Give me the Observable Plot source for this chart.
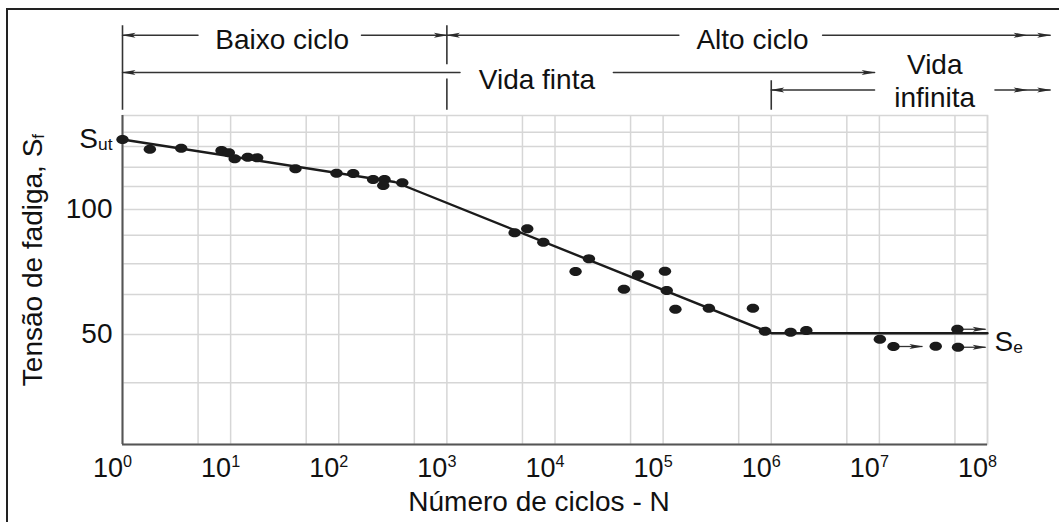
<!DOCTYPE html>
<html><head><meta charset="utf-8">
<script src="https://cdn.jsdelivr.net/npm/d3@7"></script>
<script src="https://cdn.jsdelivr.net/npm/@observablehq/plot@0.6"></script>
<style>
html,body{margin:0;padding:0;background:#fff;overflow:hidden;}
#wrap{position:relative;width:1059px;height:522px;}
#frame{position:absolute;left:6px;top:8px;right:-10px;bottom:-10px;border-left:2px solid #222;border-top:2px solid #222;pointer-events:none;}
</style></head><body><div id="wrap"><div id="frame"></div></div>
<script>
// ---- data ----
const decades = [1, 10, 100, 1e3, 1e4, 1e5, 1e6, 1e7, 1e8];
const minorN = [5, 50, 500, 5e3, 5e4, 5e5, 5e6, 5e7];
const stressGrid = [130.9, 125.2, 116.9, 109.2, 100, 89.7, 78.3, 66, 50, 30.7];
const Sut = 128, Se = 50.5;
const stressTicks = [Sut, 100, 50];
const curveN = [1, 330, 1e6, 1e8];
const curveS = [Sut, 111, Se, Se];
const testN = [1, 1.79, 3.49, 8.24, 9.62, 10.9, 14.4, 17.6, 39.8, 95.4, 136, 208, 265, 258, 387,
  4230, 5540, 7800, 15500, 20600, 43400, 58500, 104000, 108000, 130000, 265000, 677000,
  875000, 1.51e6, 2.11e6, 1.01e7, 1.35e7, 3.32e7, 5.27e7, 5.34e7];
const testS = [128.0, 124.1, 124.5, 123.6, 122.7, 120.3, 120.9, 120.7, 116.3, 114.5, 114.4, 112.0, 112.0, 109.6, 110.7,
  90.7, 92.3, 86.9, 75.2, 80.3, 68.1, 73.9, 75.3, 67.6, 60.1, 60.5, 60.5,
  51.3, 50.9, 51.6, 48.1, 45.2, 45.3, 52.1, 44.9];
const runoutN = [1.35e7, 5.27e7, 5.34e7];
const runoutS = [45.2, 52.1, 44.9];
const runoutEnd = [2.5e7, 9.6e7, 9.6e7];
const regimeLabels = ["Baixo ciclo", "Alto ciclo", "Vida finta", "Vida\ninfinita"];
const regimeBounds = [1, 1e3, 1e6];

// ---- tables built from the arrays ----
const curve = curveN.map((N, i) => ({N, S: curveS[i]}));
const tests = testN.map((N, i) => ({N, S: testS[i]}));
const runouts = runoutN.map((N, i) => ({N, S: runoutS[i], end: runoutEnd[i]}));

// annotation band layout (in stress units, above the frame)
const band = {row1: 169.7, row2: 154.8, row3: 147.8, top: 173.5, bottom: 139.7, gapLo: 152.2, gapHi: 157.9, lo3: 151.5,
  text1: 168.4, text2: 152.5, text3: 151.9};
const [b0, b1, b2] = regimeBounds;
const segStart = [
  {id: "a", N: b0, y: band.row1}, {id: "a", N: 5, y: band.row1},
  {id: "c", N: b1, y: band.row1}, {id: "c", N: 1.4e5, y: band.row1},
  {id: "e", N: b0, y: band.row2}, {id: "e", N: 1325, y: band.row2},
  {id: "g", N: b2, y: band.row3}, {id: "g", N: 9.04e6, y: band.row3}
];
const segEnd = [
  {id: "b", N: 162, y: band.row1}, {id: "b", N: b1, y: band.row1},
  {id: "f", N: 34600, y: band.row2}, {id: "f", N: 9.04e6, y: band.row2}
];
const segDouble = [
  {id: "d", N: 2.98e6, y: band.row1}, {id: "d", N: 2.3e8, y: band.row1}, {id: "d", N: 3.8e8, y: band.row1},
  {id: "h", N: 1.17e8, y: band.row3}, {id: "h", N: 2.3e8, y: band.row3}, {id: "h", N: 3.8e8, y: band.row3}
];
const bars = [
  {N: b0, y1: band.bottom, y2: band.top},
  {N: b1, y1: band.bottom, y2: band.gapLo}, {N: b1, y1: band.gapHi, y2: band.top},
  {N: b2, y1: band.bottom, y2: band.lo3}
];
const labels = [
  {t: regimeLabels[0], N: 30, y: band.text1},
  {t: regimeLabels[1], N: 6.7e5, y: band.text1},
  {t: regimeLabels[2], N: 6800, y: band.text2},
  {t: regimeLabels[3], N: 3.25e7, y: band.text3}
];

const ellipse = {draw(ctx) {
  const rx = 6.2, ry = 4.6, k = 0.5523;
  ctx.moveTo(rx, 0);
  ctx.bezierCurveTo(rx, ry * k, rx * k, ry, 0, ry);
  ctx.bezierCurveTo(-rx * k, ry, -rx, ry * k, -rx, 0);
  ctx.bezierCurveTo(-rx, -ry * k, -rx * k, -ry, 0, -ry);
  ctx.bezierCurveTo(rx * k, -ry, rx, -ry * k, rx, 0);
  ctx.closePath();
}};

const ink = "#1b1b1b", annot = "#333";
const chart = Plot.plot({
  width: 1059, height: 522,
  marginLeft: 122, marginRight: 72, marginTop: 115, marginBottom: 78,
  x: {type: "log", domain: [1, 1e8]},
  y: {domain: [6, 137.6]},
  style: {fontFamily: "'Liberation Sans', Arial, sans-serif", fontSize: "28px", color: "#111", background: "white", overflow: "visible"},
  marks: [
    Plot.gridX([...decades, ...minorN], {stroke: "#d6d6d6", strokeOpacity: 1, strokeWidth: 1.5}),
    Plot.gridY(stressGrid, {stroke: "#d6d6d6", strokeOpacity: 1, strokeWidth: 1.5}),
    Plot.frame({stroke: "#d6d6d6", strokeWidth: 1.5}),
    Plot.ruleX([1], {stroke: "#555", strokeWidth: 2}),
    Plot.ruleY([6], {stroke: "#555", strokeWidth: 2}),
    Plot.axisX(decades, {tickSize: 0, tickPadding: 13, fontSize: 27, dx: -10, label: null,
      tickFormat: d => "10^" + Math.round(Math.log10(d))}),
    Plot.axisY(stressTicks, {tickSize: 0, tickPadding: 10, fontSize: 28, label: null,
      tickFormat: d => d === Sut ? "S_ut" : String(d)}),
    Plot.text(["Tensão de fadiga, S_f"], {frameAnchor: "left", rotate: -90, dx: -89, dy: -20, fontSize: 28, textAnchor: "middle", lineAnchor: "middle"}),
    Plot.text(["Número de ciclos - N"], {frameAnchor: "bottom", dx: -16, dy: 58, fontSize: 28, textAnchor: "middle", lineAnchor: "middle"}),
    // regime annotations
    Plot.ruleX(bars, {x: "N", y1: "y1", y2: "y2", stroke: annot, strokeWidth: 1.6}),
    Plot.line(segStart, {x: "N", y: "y", z: "id", stroke: annot, strokeWidth: 1.3, markerStart: "arrow"}),
    Plot.line(segEnd, {x: "N", y: "y", z: "id", stroke: annot, strokeWidth: 1.3, markerEnd: "arrow"}),
    Plot.line(segDouble, {x: "N", y: "y", z: "id", stroke: annot, strokeWidth: 1.3, markerMid: "arrow", markerEnd: "arrow"}),
    Plot.text(labels, {x: "N", y: "y", text: "t", fontSize: 28, lineHeight: 1.2, lineAnchor: "middle"}),
    // S-N curve and tests
    Plot.line(curve, {x: "N", y: "S", stroke: ink, strokeWidth: 2.4}),
    Plot.link(runouts, {x1: "N", x2: "end", y1: "S", y2: "S", stroke: annot, strokeWidth: 1.3, markerEnd: "arrow"}),
    Plot.dot(tests, {x: "N", y: "S", symbol: ellipse, fill: ink, stroke: "none"}),
    Plot.text(["S_e"], {x: 1e8, y: Se, dx: 7, dy: 9, textAnchor: "start", fontSize: 28, lineAnchor: "middle"})
  ]
});

// rich text: ^ superscript, _ subscript
const NS = "http://www.w3.org/2000/svg";
chart.querySelectorAll("text").forEach(t => {
  const spans = t.querySelectorAll("tspan");
  const targets = spans.length ? Array.from(spans) : [t];
  targets.forEach(el => {
    const m = el.textContent.match(/^(.*?)([_^])([^_^]+)$/);
    if (!m) return;
    el.textContent = m[1];
    const ts = document.createElementNS(NS, "tspan");
    ts.textContent = m[3];
    ts.setAttribute("font-size", m[2] === "^" ? "0.6em" : "0.62em");
    ts.setAttribute("dy", m[2] === "^" ? "-0.62em" : "0.1em");
    el.appendChild(ts);
  });
});
// barbed filled arrowheads
chart.querySelectorAll("marker").forEach(mk => {
  mk.setAttribute("viewBox", "-16 -4 18 8");
  mk.setAttribute("markerWidth", 18);
  mk.setAttribute("markerHeight", 8);
  mk.setAttribute("markerUnits", "userSpaceOnUse");
  mk.setAttribute("orient", "auto-start-reverse");
  mk.setAttribute("fill", "#2a2a2a");
  mk.setAttribute("stroke", "none");
  while (mk.firstChild) mk.removeChild(mk.firstChild);
  const p = document.createElementNS(NS, "path");
  p.setAttribute("d", "M1,0L-13,-2.6L-10,0L-13,2.6Z");
  mk.appendChild(p);
});
document.getElementById("wrap").prepend(chart);
</script></body></html>
